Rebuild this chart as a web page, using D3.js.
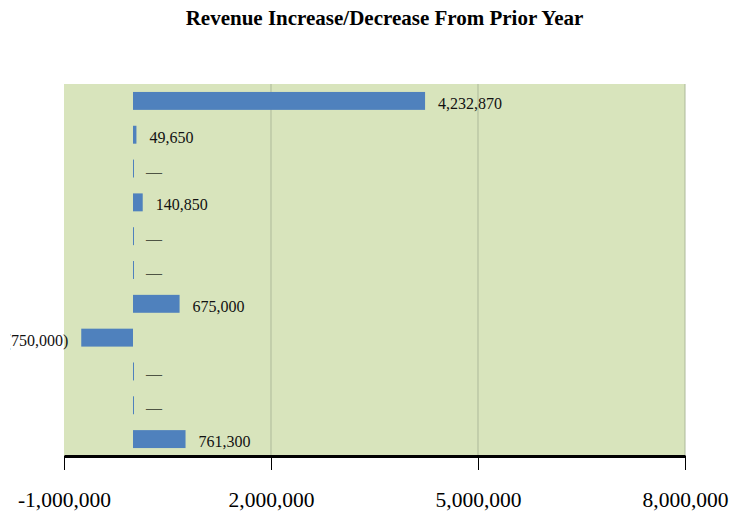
<!DOCTYPE html>
<html>
<head>
<meta charset="utf-8">
<script src="https://cdn.jsdelivr.net/npm/d3@7"></script>
<style>
  html, body { margin: 0; padding: 0; background: #fff; }
  svg { display: block; }
</style>
</head>
<body>
<svg id="chart" width="730" height="514"></svg>
<script>
// Revenue line items, top to bottom
const categories = ["1", "2", "3", "4", "5", "6", "7", "8", "9", "10", "11"];
// Change from the prior year, in dollars
const changes = [4232870, 49650, 0, 140850, 0, 0, 675000, -750000, 0, 0, 761300];
// Horizontal axis ticks
const tickValues = [-1000000, 2000000, 5000000, 8000000];

const W = 730, H = 514;
const plot = { left: 64, right: 685, top: 84, bottom: 456 };
const serif = "'Liberation Serif', 'Times New Roman', serif";

const svg = d3.select("#chart");

const x = d3.scaleLinear().domain([-1000000, 8000000]).range([plot.left, plot.right]);
const y = d3.scaleBand().domain(categories).range([plot.top, plot.bottom])
  .paddingInner(0.47).paddingOuter(0.235);

// Title
svg.append("text")
  .attr("x", 384.5).attr("y", 25)
  .attr("text-anchor", "middle")
  .style("font-family", serif).style("font-weight", "bold").style("font-size", "21px")
  .text("Revenue Increase/Decrease From Prior Year");

// Plot background
svg.append("rect")
  .attr("x", plot.left).attr("y", plot.top)
  .attr("width", plot.right - plot.left).attr("height", plot.bottom - plot.top)
  .attr("fill", "#d8e4bc");

// Vertical gridlines
svg.append("g").selectAll("line").data(tickValues.slice(1)).join("line")
  .attr("x1", d => x(d)).attr("x2", d => x(d))
  .attr("y1", plot.top).attr("y2", plot.bottom)
  .attr("stroke", "#adb99a").attr("stroke-width", 1);

// Bars
svg.append("g").selectAll("rect").data(changes).join("rect")
  .attr("x", d => Math.min(x(0), x(d)))
  .attr("y", (d, i) => y(categories[i]))
  .attr("width", d => Math.max(Math.abs(x(d) - x(0)), 1))
  .attr("height", y.bandwidth())
  .attr("fill", "#4f81bd");

// Value labels, clipped to the chart area
svg.append("defs").append("clipPath").attr("id", "chart-area")
  .append("rect").attr("x", 10).attr("y", 0).attr("width", W - 10).attr("height", H);

const fmt = d3.format(",");
const labelText = d => d === 0 ? "\u2014" : d < 0 ? "(" + fmt(-d) + ")" : fmt(d);

svg.append("g").attr("clip-path", "url(#chart-area)")
  .selectAll("text").data(changes).join("text")
  .attr("x", d => d < 0 ? x(d) - 13 : x(d) + 13)
  .attr("y", (d, i) => y(categories[i]) + y.bandwidth() / 2)
  .attr("dy", "0.5em")
  .attr("text-anchor", d => d < 0 ? "end" : "start")
  .style("font-family", serif).style("font-size", "16px")
  .attr("fill", d => d === 0 ? "#4e5444" : "#111")
  .text(labelText);

// Horizontal axis (hyphen-minus for negatives)
const tickFmt = d => (d < 0 ? "-" : "") + fmt(Math.abs(d));
const axis = svg.append("g")
  .attr("transform", `translate(0,${plot.bottom})`)
  .call(d3.axisBottom(x).tickValues(tickValues).tickSize(14).tickSizeOuter(0)
    .tickPadding(22).tickFormat(tickFmt));
axis.select(".domain").attr("stroke", "#000").attr("stroke-width", 3);
axis.selectAll(".tick line").attr("stroke", "#000").attr("stroke-width", 1);
axis.selectAll(".tick text")
  .style("font-family", serif).style("font-size", "21.5px").attr("fill", "#000");
</script>
</body>
</html>
